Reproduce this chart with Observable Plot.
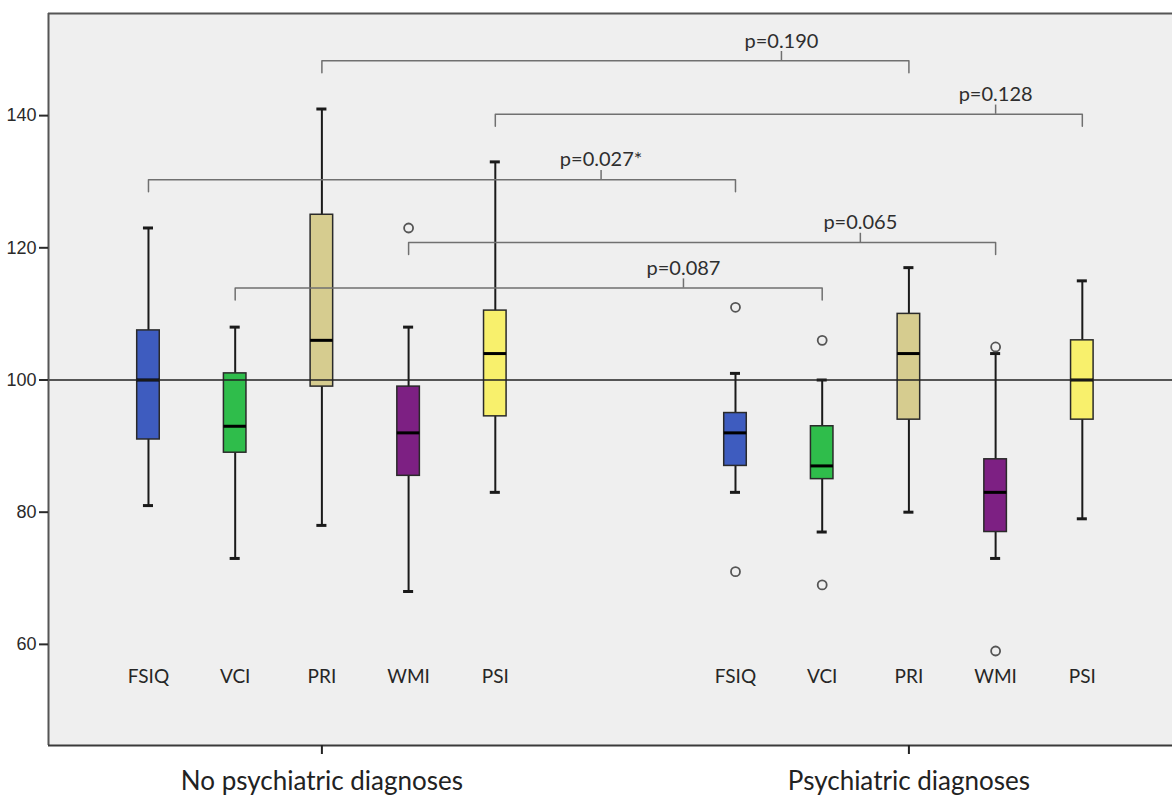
<!DOCTYPE html>
<html><head><meta charset="utf-8">
<script src="https://cdn.jsdelivr.net/npm/d3@7"></script>
<script src="https://cdn.jsdelivr.net/npm/@observablehq/plot@0.6"></script>
<style>html,body{margin:0;padding:0;background:#fff;overflow:hidden}</style>
</head><body><div id="chart"></div>
<script>
// ---- data ----
const groups = ["No psychiatric diagnoses", "Psychiatric diagnoses"];
const indices = ["FSIQ", "VCI", "PRI", "WMI", "PSI"];
const indexColors = ["#3e5cbf", "#2fbd4b", "#d6cc8f", "#7d2083", "#f8f06c"];

const noDxMin    = [81, 73, 78, 68, 83];
const noDxQ1     = [91, 89, 99, 85.5, 94.5];
const noDxMedian = [100, 93, 106, 92, 104];
const noDxQ3     = [107.5, 101, 125, 99, 110.5];
const noDxMax    = [123, 108, 141, 108, 133];

const dxMin    = [83, 77, 80, 73, 79];
const dxQ1     = [87, 85, 94, 77, 94];
const dxMedian = [92, 87, 104, 83, 100];
const dxQ3     = [95, 93, 110, 88, 106];
const dxMax    = [101, 100, 117, 104, 115];

const outlierGroup = [0, 1, 1, 1, 1, 1, 1];
const outlierIndex = ["WMI", "FSIQ", "FSIQ", "VCI", "VCI", "WMI", "WMI"];
const outlierValue = [123, 111, 71, 106, 69, 105, 59];

const pLabels       = ["p=0.190", "p=0.128", "p=0.027*", "p=0.065", "p=0.087"];
const bracketIndex  = ["PRI", "PSI", "FSIQ", "WMI", "VCI"];
const bracketLevel  = [148.3, 140.2, 130.3, 120.8, 113.9];
const pLabelPos     = [7.30, 9.77, 5.22, 8.21, 6.17]; // along the category axis

const yTicks = [60, 80, 100, 120, 140];

// ---- layout helpers ----
const GROUP_GAP = 6.77;
const pos = (gi, i) => gi * GROUP_GAP + i;
const BOX_HALF = 0.13, CAP_HALF = 0.058, HOOK = 1.8, PTICK = 1.4, CAT_LABEL_Y = 54.1;

const stats = [[noDxMin, noDxQ1, noDxMedian, noDxQ3, noDxMax], [dxMin, dxQ1, dxMedian, dxQ3, dxMax]];
const boxes = groups.flatMap((g, gi) => indices.map((k, i) => ({
  group: g, index: k, x: pos(gi, i), color: indexColors[i],
  min: stats[gi][0][i], q1: stats[gi][1][i], med: stats[gi][2][i], q3: stats[gi][3][i], max: stats[gi][4][i]
})));
const outliers = outlierValue.map((v, j) => ({x: pos(outlierGroup[j], indices.indexOf(outlierIndex[j])), y: v}));
const brackets = pLabels.flatMap((p, j) => {
  const i = indices.indexOf(bracketIndex[j]);
  const a = pos(0, i), b = pos(1, i), lv = bracketLevel[j];
  return [{z: p, x: a, y: lv - HOOK}, {z: p, x: a, y: lv}, {z: p, x: b, y: lv}, {z: p, x: b, y: lv - HOOK}];
});
const pTicks = pLabels.map((p, j) => ({label: p, x: pLabelPos[j], y: bracketLevel[j]}));
const catLabels = groups.flatMap((g, gi) => indices.map((k, i) => ({label: k, x: pos(gi, i)})));
const groupCenters = groups.map((g, gi) => pos(gi, 2));

const X0 = -1.153, X1 = 11.81, Y0 = 44.7, Y1 = 155.45;

const chart = Plot.plot({
  width: 1172, height: 796,
  marginLeft: 48, marginRight: 0, marginTop: 13, marginBottom: 51,
  x: {type: "linear", domain: [X0, X1], axis: null},
  y: {type: "linear", domain: [Y0, Y1], axis: null},
  style: {background: "#fff", fontFamily: "Lato, sans-serif", overflow: "visible"},
  marks: [
    Plot.frame({fill: "#efefef", stroke: "none"}),
    // whiskers
    Plot.ruleX(boxes, {x: "x", y1: "min", y2: "max", stroke: "#1a1a1a", strokeWidth: 2}),
    // boxes
    Plot.rect(boxes, {x1: d => d.x - BOX_HALF, x2: d => d.x + BOX_HALF, y1: "q1", y2: "q3",
      fill: "color", stroke: "#2a2a2a", strokeWidth: 1.5}),
    // medians
    Plot.ruleY(boxes, {y: "med", x1: d => d.x - BOX_HALF, x2: d => d.x + BOX_HALF, stroke: "#000", strokeWidth: 3}),
    // caps
    Plot.ruleY(boxes, {y: "min", x1: d => d.x - CAP_HALF, x2: d => d.x + CAP_HALF, stroke: "#1a1a1a", strokeWidth: 3}),
    Plot.ruleY(boxes, {y: "max", x1: d => d.x - CAP_HALF, x2: d => d.x + CAP_HALF, stroke: "#1a1a1a", strokeWidth: 3}),
    // outliers
    Plot.dot(outliers, {x: "x", y: "y", r: 4.5, fill: "#efefef", stroke: "#555", strokeWidth: 1.8}),
    // reference line at 100
    Plot.ruleY([100], {stroke: "#222", strokeWidth: 1.5}),
    // brackets
    Plot.line(brackets, {x: "x", y: "y", z: "z", stroke: "#707070", strokeWidth: 1.5, strokeLinejoin: "round"}),
    Plot.ruleX(pTicks, {x: "x", y1: "y", y2: d => d.y + PTICK, stroke: "#707070", strokeWidth: 1.5}),
    Plot.text(pTicks, {x: "x", y: d => d.y + PTICK, text: "label", lineAnchor: "bottom", dy: -4,
      fontSize: 20, fill: "#2e2e2e", fontFamily: "Lato, sans-serif"}),
    // category labels inside plot
    Plot.text(catLabels, {x: "x", y: () => CAT_LABEL_Y, text: "label", lineAnchor: "bottom",
      fontSize: 19, fill: "#262626", fontFamily: "Lato, sans-serif"}),
    // frame lines (top, left, bottom)
    Plot.ruleY([Y1], {stroke: "#555", strokeWidth: 2}),
    Plot.ruleX([X0], {stroke: "#555", strokeWidth: 2}),
    Plot.ruleY([Y0], {stroke: "#3a3a3a", strokeWidth: 2}),
    // axes
    Plot.axisY({ticks: yTicks, tickSize: 9, tickPadding: 3, fontSize: 18, label: null,
      fontFamily: "'Liberation Sans Narrow', 'Liberation Sans', sans-serif", color: "#2a2a2a", strokeWidth: 2}),
    Plot.axisX({ticks: groupCenters, tickFormat: d => groups[Math.round((d - 2) / GROUP_GAP)],
      tickSize: 9, tickPadding: 17, fontSize: 26, label: null, fontFamily: "Lato, sans-serif",
      color: "#222", strokeWidth: 2})
  ]
});
document.getElementById("chart").appendChild(chart);
</script>
</body></html>
